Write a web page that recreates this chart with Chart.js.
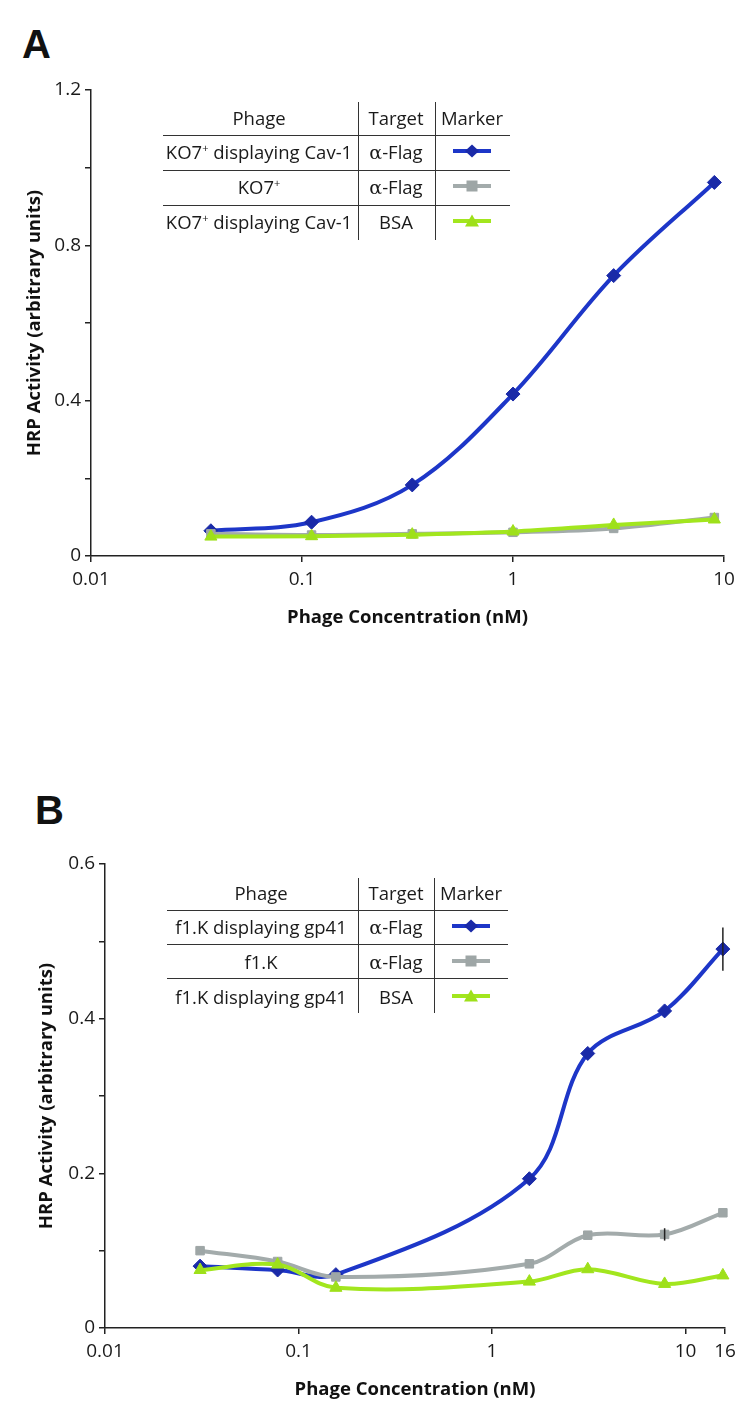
<!DOCTYPE html>
<html><head><meta charset="utf-8">
<script src="https://cdn.jsdelivr.net/npm/chart.js@4.4.1/dist/chart.umd.min.js"></script>
<style>
html,body{margin:0;padding:0;background:#fff;}
body{width:750px;height:1416px;position:relative;overflow:hidden;font-family:"Open Sans",sans-serif;color:#1a1a1a;}
canvas{position:absolute;left:0;}
.panel{position:absolute;font-family:"Liberation Sans","DejaVu Sans",sans-serif;font-weight:700;font-size:40px;line-height:1;color:#111;}
.hl{position:absolute;height:0;border-top:1.5px solid #333;}
.vl{position:absolute;width:0;border-left:1.5px solid #333;}
.tx{position:absolute;transform:translate(-50%,-50%);white-space:nowrap;font-size:18.5px;line-height:1;}
.tx sup{font-size:11px;vertical-align:top;position:relative;top:-1px;}
.alpha{font-family:"DejaVu Serif","Liberation Serif",serif;font-size:19px;}
.mk{position:absolute;transform:translate(-50%,-50%);}
</style></head>
<body>
<div class="panel" style="left:22px;top:24px;">A</div>
<div class="panel" style="left:35px;top:790px;">B</div>
<canvas id="cA" width="750" height="700" style="top:0;width:750px;height:700px;"></canvas>
<canvas id="cB" width="750" height="656" style="top:760px;width:750px;height:656px;"></canvas>
<div id="legA"></div>
<div id="legB"></div>
<script>
// ---------- DATA ----------
const concA = [0.037, 0.111, 0.333, 1, 3, 9];
const blueA = [0.065, 0.087, 0.183, 0.417, 0.722, 0.962];
const greyA = [0.057, 0.054, 0.057, 0.061, 0.071, 0.099];
const greenA = [0.050, 0.051, 0.055, 0.063, 0.080, 0.094];
const xTicksA = [0.01, 0.1, 1, 10];

const concB = [0.031, 0.078, 0.156, 1.56, 3.125, 7.8, 15.6];
const blueB = [0.080, 0.075, 0.069, 0.193, 0.355, 0.410, 0.490];
const greyB = [0.100, 0.086, 0.066, 0.083, 0.120, 0.121, 0.149];
const greenB = [0.075, 0.082, 0.052, 0.060, 0.076, 0.057, 0.068];
const blueErrB = [0, 0, 0, 0, 0, 0, 0.028];
const greyErrB = [0, 0, 0, 0, 0, 0.008, 0];
const xTicksB = [0.01, 0.1, 1, 10, 16];

const phageA = ['KO7+ displaying Cav-1', 'KO7+', 'KO7+ displaying Cav-1'];
const phageB = ['f1.K displaying gp41', 'f1.K', 'f1.K displaying gp41'];
const targets = ['α-Flag', 'α-Flag', 'BSA'];
const headers = ['Phage', 'Target', 'Marker'];
const xTitle = 'Phage Concentration (nM)';
const yTitle = 'HRP Activity (arbitrary units)';

// ---------- STYLE ----------
const BLUE = '#1d36c8', BLUE_M = '#1a2aa8';
const GREY = '#a3abab', GREY_M = '#9ea6a6';
const GREEN = '#a2e61e', GREEN_M = '#9ee01a';
const FONT = '"Open Sans", sans-serif';

const errorBars = {
  id: 'errorBars',
  afterDatasetsDraw(chart) {
    const ctx = chart.ctx, xs = chart.scales.x, ys = chart.scales.y;
    chart.data.datasets.forEach(ds => {
      if (!ds.errors) return;
      ds.data.forEach((p, i) => {
        const e = ds.errors[i];
        if (!e) return;
        const px = xs.getPixelForValue(p.x);
        ctx.save();
        ctx.strokeStyle = '#222';
        ctx.lineWidth = 1.5;
        ctx.beginPath();
        ctx.moveTo(px, ys.getPixelForValue(p.y - e));
        ctx.lineTo(px, ys.getPixelForValue(p.y + e));
        ctx.stroke();
        ctx.restore();
      });
    });
  }
};

function pts(xs, ys) { return xs.map((x, i) => ({x: x, y: ys[i]})); }

function makeChart(id, conc, b, g, gr, bErr, gErr, xTicks, xMax, yMax, yStep, geom) {
  const ds = (label, data, col, mcol, style, rad, order, errs) => ({
    label, data, borderColor: col, backgroundColor: mcol, pointBackgroundColor: mcol,
    pointBorderColor: mcol, pointStyle: style, pointRadius: rad, pointBorderWidth: 1,
    borderWidth: 4, tension: 0.35, order, errors: errs, clip: false
  });
  return new Chart(document.getElementById(id), {
    type: 'line',
    data: {
      datasets: [
        ds('blue', pts(conc, b), BLUE, BLUE_M, 'rectRot', 7, 2, bErr),
        ds('grey', pts(conc, g), GREY, GREY_M, 'rect', 6, 1, gErr),
        ds('green', pts(conc, gr), GREEN, GREEN_M, 'triangle', 7, 0, null)
      ]
    },
    options: {
      responsive: false, animation: false, devicePixelRatio: 1,
      layout: {padding: geom.pad},
      plugins: {legend: {display: false}, tooltip: {enabled: false}},
      scales: {
        x: {
          type: 'logarithmic', min: 0.01, max: xMax,
          afterBuildTicks: s => { s.ticks = xTicks.map(v => ({value: v})); },
          afterFit: s => { s.height = 80; },
          border: {display: true, color: '#222', width: 1.5},
          grid: {display: true, drawOnChartArea: false, drawTicks: true, tickLength: 6, color: '#222', lineWidth: 1.5},
          ticks: {autoSkip: false, maxRotation: 0, padding: 6, color: '#1a1a1a',
                  font: {family: FONT, size: 19}, callback: v => String(v)},
          title: {display: true, text: xTitle, color: '#111',
                  font: {family: FONT, size: 18.5, weight: 'bold'}, padding: {top: 0, bottom: 7}}
        },
        y: {
          type: 'linear', min: 0, max: yMax,
          afterFit: s => { s.width = geom.yWidth; },
          border: {display: true, color: '#222', width: 1.5},
          grid: {display: true, drawOnChartArea: false, drawTicks: true, tickLength: 6, color: '#222', lineWidth: 1.5},
          ticks: {stepSize: yStep, padding: geom.yTickPad, color: '#1a1a1a',
                  font: {family: FONT, size: 19},
                  callback: (v, i) => (i % 2 === 0 ? String(Math.round(v * 10) / 10) : '')},
          title: {display: true, text: yTitle, color: '#111',
                  font: {family: FONT, size: 18.5, weight: 'bold'}, padding: {top: geom.yTitlePad, bottom: 0}}
        }
      }
    },
    plugins: [errorBars]
  });
}

makeChart('cA', concA, blueA, greyA, greenA, null, null, xTicksA, 10, 1.2, 0.2,
  {pad: {left: 0, top: 90, right: 26, bottom: 64}, yWidth: 91, yTickPad: 4, yTitlePad: 24});
makeChart('cB', concB, blueB, greyB, greenB, blueErrB, greyErrB, xTicksB, 16, 0.6, 0.1,
  {pad: {left: 0, top: 104, right: 25, bottom: 8}, yWidth: 105, yTickPad: 4, yTitlePad: 36});

// ---------- LEGEND TABLES (HTML text) ----------
function markerSvg(col, mcol, shape) {
  let m = '';
  if (shape === 'diamond') m = `<polygon points="20,0.5 27,7 20,13.5 13,7" fill="${mcol}"/>`;
  if (shape === 'square') m = `<rect x="14.5" y="1.5" width="11" height="11" fill="${mcol}"/>`;
  if (shape === 'triangle') m = `<polygon points="20,0.5 27,12.5 13,12.5" fill="${mcol}"/>`;
  return `<svg width="40" height="14" viewBox="0 0 40 14"><line x1="1" y1="7" x2="39" y2="7" stroke="${col}" stroke-width="4"/>${m}</svg>`;
}
function fmtPhage(s) { return s.replace(/\+/g, '<sup>+</sup>'); }
function fmtTarget(s) { return s.replace('α', '<span class="alpha">α</span>'); }

function buildLegend(elId, phages, g) {
  const el = document.getElementById(elId);
  let h = '';
  g.hy.forEach(y => { h += `<div class="hl" style="left:${g.x0}px;top:${y}px;width:${g.x1 - g.x0}px"></div>`; });
  g.vx.forEach(x => { h += `<div class="vl" style="left:${x}px;top:${g.vy0}px;height:${g.vy1 - g.vy0}px"></div>`; });
  headers.forEach((t, i) => { h += `<div class="tx" style="left:${g.cx[i]}px;top:${g.headY}px">${t}</div>`; });
  const mk = [[BLUE, BLUE_M, 'diamond'], [GREY, GREY_M, 'square'], [GREEN, GREEN_M, 'triangle']];
  phages.forEach((p, i) => {
    const y = g.rowY[i];
    h += `<div class="tx" style="left:${g.cx[0]}px;top:${y}px">${fmtPhage(p)}</div>`;
    h += `<div class="tx" style="left:${g.cx[1]}px;top:${y}px">${fmtTarget(targets[i])}</div>`;
    h += `<div class="mk" style="left:${g.cx[2]}px;top:${y}px">${markerSvg(...mk[i])}</div>`;
  });
  el.innerHTML = h;
}
buildLegend('legA', phageA, {x0: 163, x1: 510, hy: [135, 170, 205], vx: [358, 435], vy0: 102, vy1: 240,
  cx: [259, 396, 472], headY: 118, rowY: [152, 187, 222]});
buildLegend('legB', phageB, {x0: 167, x1: 508, hy: [910, 944, 978], vx: [358, 434], vy0: 878, vy1: 1013,
  cx: [261, 396, 471], headY: 893, rowY: [927, 962, 997]});
</script>
</body></html>
